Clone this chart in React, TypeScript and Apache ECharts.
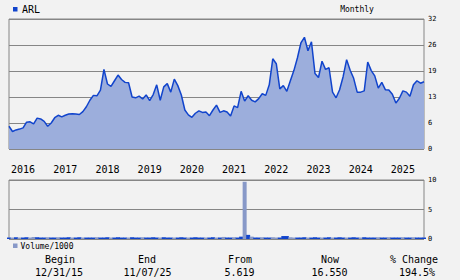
import React, { useEffect, useRef } from "react";
import * as echarts from "echarts";

// Monthly closes, Jan 2016 .. Nov 2025
const priceValues: number[] = [
  5.6, 4.3, 4.7, 4.9, 5.2, 6.6, 6.7, 6.2, 7.6, 7.4, 6.8, 5.6,
  6.4, 7.7, 8.3, 7.9, 8.3, 8.6, 8.7, 8.6, 8.5, 9.2, 10.4, 12.0,
  13.2, 13.1, 14.5, 19.6, 16.0, 15.4, 16.8, 18.2, 17.1, 16.4, 16.3, 12.8,
  12.6, 13.0, 12.3, 13.3, 11.9, 13.4, 15.8, 12.0, 15.3, 16.1, 14.0, 17.2,
  15.6, 13.3, 9.6, 8.4, 7.8, 8.8, 9.4, 9.0, 9.1, 8.2, 9.6, 10.8,
  9.0, 9.4, 9.1, 8.1, 10.6, 10.2, 14.2, 11.8, 13.1, 12.0, 11.6, 12.4,
  13.6, 13.2, 15.8, 22.2, 21.0, 14.8, 15.6, 14.2, 16.8, 19.3, 22.4, 26.1,
  27.5, 24.2, 26.4, 18.6, 17.6, 21.6, 19.6, 20.0, 14.0, 12.6, 14.6, 17.8,
  22.0, 19.4, 17.4, 14.0, 14.0, 14.3, 21.4, 19.3, 18.0, 15.0, 16.4, 14.6,
  14.5, 13.5, 11.3, 12.5, 14.3, 14.0, 13.0, 15.8, 16.8, 16.2, 16.55,
];

// Volume / 1000 per month
const volumeValues: number[] = [
  0.25, 0.25, 0.3, 0.25, 0.25, 0.3, 0.25, 0.35, 0.3, 0.25, 0.25, 0.3,
  0.25, 0.25, 0.3, 0.25, 0.25, 0.3, 0.25, 0.25, 0.3, 0.25, 0.25, 0.25,
  0.25, 0.3, 0.25, 0.25, 0.3, 0.25, 0.25, 0.3, 0.25, 0.25, 0.25, 0.3,
  0.25, 0.25, 0.3, 0.25, 0.25, 0.3, 0.25, 0.25, 0.3, 0.25, 0.25, 0.25,
  0.25, 0.3, 0.25, 0.25, 0.25, 0.3, 0.25, 0.25, 0.25, 0.25, 0.3, 0.25,
  0.25, 0.35, 0.25, 0.25, 0.3, 0.25, 0.4, 9.7, 0.7, 0.4, 0.25, 0.25,
  0.3, 0.25, 0.25, 0.3, 0.25, 0.25, 0.5, 0.5, 0.3, 0.25, 0.25, 0.25,
  0.3, 0.25, 0.25, 0.3, 0.25, 0.25, 0.25, 0.3, 0.25, 0.25, 0.3, 0.25,
  0.25, 0.25, 0.3, 0.25, 0.25, 0.3, 0.25, 0.25, 0.25, 0.3, 0.25, 0.25,
  0.3, 0.25, 0.25, 0.25, 0.3, 0.25, 0.25, 0.3, 0.25, 0.25, 0.25,
];

// 1 = dark bar, 0 = light bar
const volumeDark: number[] = [
  1, 0, 1, 0, 1, 1, 0, 0, 1, 1, 1, 0,
  1, 1, 0, 1, 1, 1, 0, 1, 1, 0, 1, 1,
  1, 0, 1, 1, 1, 0, 1, 1, 1, 1, 0, 1,
  1, 1, 0, 1, 1, 1, 1, 0, 1, 1, 1, 0,
  1, 1, 1, 0, 1, 1, 1, 1, 0, 1, 1, 0,
  1, 0, 1, 1, 0, 1, 1, 0, 1, 0, 1, 1,
  0, 1, 1, 0, 0, 1, 1, 1, 0, 0, 1, 1,
  1, 0, 1, 1, 1, 0, 1, 1, 0, 1, 1, 1,
  0, 1, 1, 1, 0, 1, 1, 1, 1, 0, 1, 1,
  0, 1, 1, 1, 0, 1, 1, 0, 1, 1, 1,
];

const startYear = 2016;
const yearLabels: string[] = ["2016", "2017", "2018", "2019", "2020", "2021", "2022", "2023", "2024", "2025"];
const monthCategories: string[] = priceValues.map((_, i) => {
  const y = startYear + Math.floor(i / 12);
  const m = (i % 12) + 1;
  return `${y}-${m < 10 ? "0" + m : m}`;
});

const tickerName = "ARL";
const periodName = "Monthly";
const volumeName = "Volume/1000";
const summaryLabels: string[] = ["Begin", "End", "From", "Now", "% Change"];
const summaryValues: string[] = ["12/31/15", "11/07/25", "5.619", "16.550", "194.5%"];

const MONO = "'DejaVu Sans Mono', monospace";
const LINE = "#1144cc";
const FILL = "#9caedc";
const VOL_LIGHT = "#8899c8";
const GRIDC = "#868686";

export default function App() {
  const ref = useRef<HTMLDivElement>(null);
  useEffect(() => {
    document.body.style.margin = "0";
    if (!ref.current) return;
    const chart = echarts.init(ref.current, undefined, { renderer: "svg" });
    const labelX = [60, 147, 240, 330, 414];
    const valueX = [59, 147.5, 239.5, 329.5, 417];
    const graphic: any[] = [
      { type: "rect", shape: { x: 13, y: 7, width: 4.5, height: 4.5 }, style: { fill: LINE } },
      { type: "text", x: 22, y: 9.5, style: { text: tickerName, font: `10px ${MONO}`, fill: "#000", verticalAlign: "middle" } },
      { type: "text", x: 357, y: 9, style: { text: periodName, font: `8px ${MONO}`, fill: "#000", align: "center", verticalAlign: "middle" } },
      { type: "rect", shape: { x: 13, y: 243.5, width: 4.5, height: 4.5 }, style: { fill: VOL_LIGHT } },
      { type: "text", x: 20.5, y: 246, style: { text: volumeName, font: `8px ${MONO}`, fill: "#000", verticalAlign: "middle" } },
    ];
    summaryLabels.forEach((t, i) => {
      graphic.push({ type: "text", x: labelX[i], y: 259, style: { text: t, font: `10px ${MONO}`, fill: "#000", align: "center", verticalAlign: "middle" } });
    });
    summaryValues.forEach((t, i) => {
      graphic.push({ type: "text", x: valueX[i], y: 272, style: { text: t, font: `10px ${MONO}`, fill: "#000", align: "center", verticalAlign: "middle" } });
    });

    chart.setOption({
      animation: false,
      backgroundColor: "#f2f2f2",
      grid: [
        { left: 9, right: 36, top: 19, height: 130, show: true, borderColor: GRIDC, borderWidth: 1, backgroundColor: "transparent" },
        { left: 9, right: 36, top: 180, height: 59, show: true, borderColor: GRIDC, borderWidth: 1, backgroundColor: "transparent" },
      ],
      xAxis: [
        {
          type: "category",
          gridIndex: 0,
          data: monthCategories,
          boundaryGap: false,
          axisLine: { show: false },
          axisTick: { show: false },
          splitLine: { show: false },
          axisLabel: {
            interval: (idx: number) => idx % 12 === 0,
            formatter: (_v: string, idx: number) => yearLabels[Math.floor(idx / 12)] ?? "",
            align: "left",
            padding: [0, 0, 0, 2],
            margin: 15,
            fontSize: 10,
            fontFamily: MONO,
            color: "#000",
          },
        },
        {
          type: "category",
          gridIndex: 1,
          data: monthCategories,
          boundaryGap: false,
          axisLine: { show: false },
          axisTick: { show: false },
          axisLabel: { show: false },
          splitLine: { show: false },
        },
      ],
      yAxis: [
        {
          type: "value",
          gridIndex: 0,
          position: "right",
          min: 0,
          max: 32,
          interval: 6.4,
          axisLine: { show: false },
          axisTick: { show: false },
          splitLine: { show: true, lineStyle: { color: GRIDC, width: 1 } },
          axisLabel: { formatter: (v: number) => String(Math.round(v)), fontSize: 7, fontFamily: MONO, color: "#000", margin: 4 },
        },
        {
          type: "value",
          gridIndex: 1,
          position: "right",
          min: 0,
          max: 10,
          interval: 5,
          axisLine: { show: false },
          axisTick: { show: false },
          splitLine: { show: true, lineStyle: { color: GRIDC, width: 1 } },
          axisLabel: { fontSize: 7, fontFamily: MONO, color: "#000", margin: 4 },
        },
      ],
      series: [
        {
          type: "line",
          xAxisIndex: 0,
          yAxisIndex: 0,
          data: priceValues,
          symbol: "none",
          lineStyle: { color: LINE, width: 1.5 },
          areaStyle: { color: FILL, opacity: 1 },
        },
        {
          type: "bar",
          xAxisIndex: 1,
          yAxisIndex: 1,
          data: volumeValues.map((v, i) => ({ value: v, itemStyle: { color: volumeDark[i] && v < 5 ? LINE : VOL_LIGHT } })),
          barWidth: 4,
        },
      ],
      graphic,
    });
    return () => chart.dispose();
  }, []);
  return <div ref={ref} style={{ width: 460, height: 280, background: "#f2f2f2" }} />;
}
